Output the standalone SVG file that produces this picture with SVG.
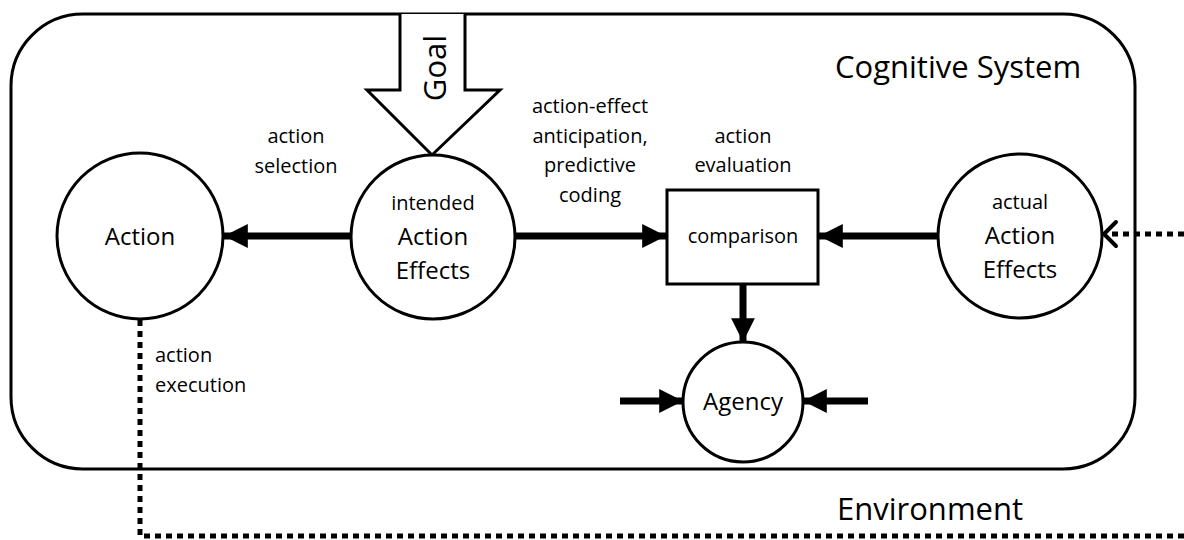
<svg xmlns="http://www.w3.org/2000/svg" width="1184" height="540" viewBox="0 0 1184 540">
<defs>
<style>
text{font-family:"Open Sans","Noto Sans",sans-serif;fill:#000;text-anchor:middle}
.lbl{font-size:20px}
.big{font-size:24px}
.title{font-size:31px;text-anchor:start}
.node{fill:#fff;stroke:#000;stroke-width:3}
.edge{stroke:#000;stroke-width:7;fill:none}
.dot{stroke:#000;stroke-width:5;fill:none;stroke-dasharray:6 5}
</style>
<marker id="ah" viewBox="0 0 10 10" refX="10" refY="5" markerWidth="3.4" markerHeight="3.4" markerUnits="strokeWidth" orient="auto">
<path d="M0,0 L10,5 L0,10 Z" fill="#000"/>
</marker>
</defs>
<g id="system">
<rect x="11" y="14" width="1124" height="455" rx="72" ry="72" fill="none" stroke="#000" stroke-width="3"/>
<text class="title" x="835" y="78">Cognitive System</text>
</g>
<g id="environment">
<text class="title" x="837" y="520">Environment</text>
</g>
<g id="connectors">
<line class="edge" x1="351" y1="236" x2="224" y2="236" marker-end="url(#ah)"/>
<line class="edge" x1="515" y1="236" x2="666" y2="236" marker-end="url(#ah)"/>
<line class="edge" x1="938" y1="236" x2="819" y2="236" marker-end="url(#ah)"/>
<line class="edge" x1="743" y1="285" x2="743" y2="342" marker-end="url(#ah)"/>
<line class="edge" x1="620" y1="401" x2="683" y2="401" marker-end="url(#ah)"/>
<line class="edge" x1="868" y1="401" x2="803" y2="401" marker-end="url(#ah)"/>
<path class="dot" d="M140,320 V536 H1184"/>
<path class="dot" d="M1184,234 H1108"/>
<path d="M1116,222 L1104,234 L1116,246" fill="none" stroke="#000" stroke-width="4" stroke-linecap="round" stroke-linejoin="round"/>
<text class="lbl" x="296" y="143">action</text>
<text class="lbl" x="296" y="173">selection</text>
<text class="lbl" x="590" y="113">action-effect</text>
<text class="lbl" x="590" y="143">anticipation,</text>
<text class="lbl" x="590" y="172">predictive</text>
<text class="lbl" x="590" y="202">coding</text>
<text class="lbl" x="743" y="143">action</text>
<text class="lbl" x="743" y="172">evaluation</text>
<text class="lbl" x="155" y="362" style="text-anchor:start">action</text>
<text class="lbl" x="155" y="392" style="text-anchor:start">execution</text>
</g>
<g id="goal">
<path d="M400,14 V90 H367 L432,155 L500,90 H465 V14" fill="#fff" stroke="#000" stroke-width="3" stroke-linejoin="miter"/>
<text transform="translate(446,68) rotate(-90)" x="0" y="0" style="font-size:31px">Goal</text>
</g>
<g id="action">
<circle class="node" cx="140" cy="236" r="83"/>
<text class="big" x="140" y="245">Action</text>
</g>
<g id="intended">
<circle class="node" cx="433" cy="237" r="82"/>
<text class="lbl" x="433" y="210">intended</text>
<text class="big" x="433" y="245">Action</text>
<text class="big" x="433" y="279">Effects</text>
</g>
<g id="comparison">
<rect class="node" x="667" y="190" width="151" height="94"/>
<text class="lbl" x="743" y="243">comparison</text>
</g>
<g id="actual">
<circle class="node" cx="1020" cy="236" r="82"/>
<text class="lbl" x="1020" y="209">actual</text>
<text class="big" x="1020" y="244">Action</text>
<text class="big" x="1020" y="278">Effects</text>
</g>
<g id="agency">
<circle class="node" cx="743" cy="402" r="60"/>
<text class="big" x="743" y="410">Agency</text>
</g>
</svg>
